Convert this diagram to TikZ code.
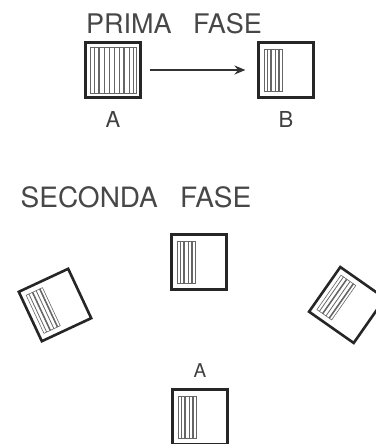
\documentclass[tikz,border=0pt]{standalone}
\usepackage{fontspec}
\setmainfont{TeX Gyre Heros}
\usetikzlibrary{arrows.meta,positioning}

\begin{document}
\begin{tikzpicture}[x=1pt, y=-1pt,
      disk/.style={
        draw=black!85, line width=2.6pt,
        minimum size=54.5pt, inner sep=0pt
      },
      heading/.style={font=\fontsize{27}{27}\selectfont, text=black!72, inner sep=0pt},
      letter/.style={font=\fontsize{22}{22}\selectfont, text=black!75, inner sep=0pt},
      hatch/.style={draw=black!60, line width=0.8pt},
      arrow/.style={-{Stealth[length=11pt,width=9pt]}, line width=2pt, draw=black!80}
    ]
      \useasboundingbox (0,0) rectangle (375,444);

      % prima fase
      \node[heading] (prima) at (174,24) {PRIMA\hspace{0.8em}FASE};
      \node[disk] (a1) at (113,70) {};
      \node[disk] (b1) at (286,70) {};
      \node[letter, below=13pt of a1] (la1) {A};
      \node[letter, below=13pt of b1] (lb1) {B};
      \draw[arrow, shorten <=8pt, shorten >=12pt] (a1) -- (b1);

      % seconda fase
      \node[heading, font=\fontsize{28}{28}\selectfont] (seconda) at (136,197) {SECONDA\hspace{0.8em}FASE};
      \node[disk] (c2) at (199,262) {};
      \node[disk, rotate=25] (l2) at (55,305) {};
      \node[disk, rotate=-35] (r2) at (347,305) {};
      \node[disk] (a2) at (200,417) {};
      \node[letter, font=\fontsize{19}{19}\selectfont, above=11pt of a2] (la2) {A};

      % hatching of box A (full)
      \begin{scope}[shift={(a1.center)}]
        \draw[hatch, line width=0.6pt] (-23,-23) rectangle (23,23);
        \foreach \x in {-19,-14,-9,-4,1,6,11,16,20}
          \draw[hatch] (\x,-23) -- (\x,23);
        \draw[hatch, line width=1.5pt] (-14,-23) -- (-14,23) (11,-23) -- (11,23);
      \end{scope}

      % hatching on the left half of the other boxes
      \foreach \n/\r in {b1/0, c2/0, l2/25, r2/-35, a2/0} {
        \begin{scope}[shift={(\n.center)}, rotate=\r]
          \draw[hatch, line width=0.6pt] (-22,-21) rectangle (-4,21);
          \foreach \x in {-19,-15,-11,-7}
            \draw[hatch] (\x,-21) -- (\x,21);
          \draw[hatch, line width=1.5pt] (-15,-21) -- (-15,21) (-7,-21) -- (-7,21);
        \end{scope}
      }
    \end{tikzpicture}
\end{document}
